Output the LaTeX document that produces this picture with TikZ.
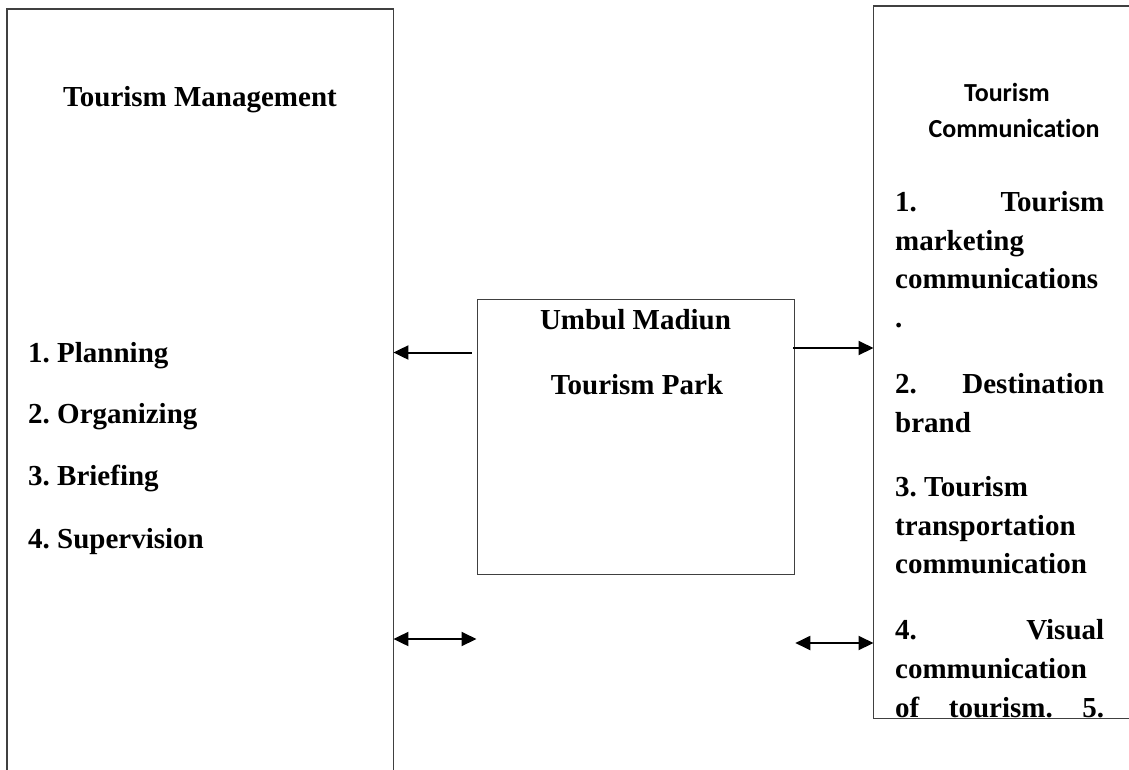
\documentclass[tikz,border=0pt]{standalone}
\usepackage{fontspec}
\setmainfont[Ligatures=NoCommon]{Liberation Serif}
\newfontfamily\hdrfont[Ligatures=NoCommon]{Carlito}
\usetikzlibrary{arrows.meta}
\frenchspacing
\begin{document}
\begin{tikzpicture}[x=1pt,y=-1pt,
  frame/.style={line width=1.3pt, draw=black!75},
  body/.style={font=\bfseries\fontsize{29}{35}\selectfont, inner sep=0pt},
  hdr/.style={font=\hdrfont\bfseries\fontsize{26}{32}\selectfont, inner sep=0pt},
  tip/.tip={Triangle[length=15pt,width=14pt]},
  link/.style={line width=2pt, -tip},
  duallink/.style={line width=2pt, tip-tip},
]
\useasboundingbox (0,0) rectangle (1129,769);
\clip (0,0) rectangle (1129,769);

% outer boxes: management (open at the bottom) and communication (open at the right)
\node[minimum width=386pt, minimum height=780pt, inner sep=0pt, anchor=north west] (mgmt) at (7,9) {};
\draw[frame] (mgmt.south west) -- (mgmt.north west) -- (mgmt.north east) -- (mgmt.south east);

\node[minimum width=270pt, minimum height=712pt, inner sep=0pt, anchor=north west] (comm) at (873.5,6) {};
\draw[frame] (comm.north east) -- (comm.north west) -- (comm.south west) -- (comm.south east);

% central box
\node[frame, draw, minimum width=317.5pt, minimum height=275pt, inner sep=0pt, anchor=north west] (park) at (476.5,299) {};
\node[body, anchor=base] (parkA) at (635.5,329) {Umbul Madiun};
\node[body, anchor=base] (parkB) at (637,394) {Tourism Park};

% management column
\node[body, anchor=base] (mgmttitle) at (200,106) {Tourism Management};
\node[body, anchor=base west] (plan) at (28,362) {1. Planning};
\node[body, anchor=base west] (org) at (28,423) {2. Organizing};
\node[body, anchor=base west] (brief) at (28,485) {3. Briefing};
\node[body, anchor=base west] (super) at (28,548) {4. Supervision};

% communication column
\node[hdr, anchor=base] (commtitleA) at (1007,101) {Tourism};
\node[hdr, anchor=base] (commtitleB) at (1014,137) {Communication};
\begin{scope}
  \clip (873.5,6) rectangle (1129,718);
  \foreach \yy/\txt [count=\k] in {
      211/{\hbox to 209pt{1.\hfill Tourism}},
      250/{marketing},
      288/{communications},
      327/{.},
      393/{\hbox to 209pt{2.\hfill Destination}},
      432/{brand},
      496/{3. Tourism},
      535/{transportation},
      573/{communication},
      639/{\hbox to 209pt{4.\hfill Visual}},
      678/{communication},
      717/{\hbox to 209pt{of\hfill tourism.\hfill 5.}}}
    \node[body, anchor=base west] (item\k) at (895,\yy) {\txt};
\end{scope}

% connectors
\coordinate (pl) at (471.5,352.5);
\draw[link] (pl) -- (pl -| mgmt.east);
\coordinate (pr) at (793,348);
\draw[link] (pr) -- (pr -| comm.west);
\coordinate (ql) at (476.5,639);
\draw[duallink] (ql -| mgmt.east) -- (ql -| park.west);
\coordinate (qr) at (794,643);
\draw[duallink] (qr -| park.east) -- (qr -| comm.west);
\end{tikzpicture}
\end{document}
